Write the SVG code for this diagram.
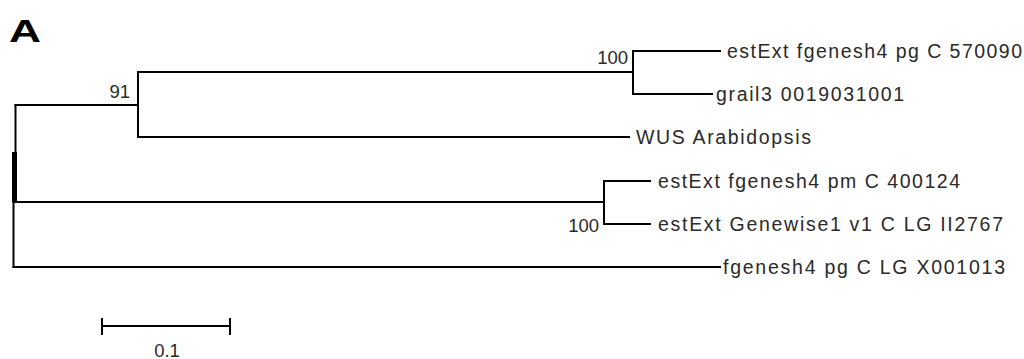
<svg xmlns="http://www.w3.org/2000/svg" width="1024" height="359" viewBox="0 0 1024 359">
<style>
.br{stroke:#000;stroke-width:2;fill:none;stroke-linecap:square}
.lb{font-family:"Liberation Sans",Arial,sans-serif;font-size:19.5px;fill:#2a2a2a}
.bs{font-family:"Liberation Sans",Arial,sans-serif;font-size:18.5px;fill:#2a2a2a}
</style>
<rect width="1024" height="359" fill="#fff"/>
<text x="9" y="42" font-family="Liberation Sans,Arial,sans-serif" font-weight="bold" font-size="32" textLength="32" lengthAdjust="spacingAndGlyphs" fill="#000">A</text>
<g id="connectors">
<path class="br" d="M15.5 105V202"/>
<rect x="12" y="152" width="5" height="50" fill="#000"/>
<path class="br" d="M13.5 202V267"/>
<path class="br" d="M15.5 105H138M138 72V137M138 72H633M633 51V94"/>
<path class="br" d="M633 51H720M633 94H712M138 137H629"/>
<path class="br" d="M13.5 202H604M604 181V224M604 181H650M604 224H650"/>
<path class="br" d="M13.5 267H720"/>
</g>
<g id="bootstrap">
<text class="bs" x="130" y="98" text-anchor="end">91</text>
<text class="bs" x="628" y="64" text-anchor="end">100</text>
<text class="bs" x="599" y="232" text-anchor="end">100</text>
</g>
<g id="leaf1"><text class="lb" x="727" y="58" textLength="295" lengthAdjust="spacing">estExt fgenesh4 pg C 570090</text></g>
<g id="leaf2"><text class="lb" x="716" y="101" textLength="188" lengthAdjust="spacing">grail3 0019031001</text></g>
<g id="leaf3"><text class="lb" x="636" y="144" textLength="175" lengthAdjust="spacing">WUS Arabidopsis</text></g>
<g id="leaf4"><text class="lb" x="658" y="188" textLength="302" lengthAdjust="spacing">estExt fgenesh4 pm C 400124</text></g>
<g id="leaf5"><text class="lb" x="658" y="231" textLength="345" lengthAdjust="spacing">estExt Genewise1 v1 C LG II2767</text></g>
<g id="leaf6"><text class="lb" x="723" y="274" textLength="282" lengthAdjust="spacing">fgenesh4 pg C LG X001013</text></g>
<g id="scalebar">
<path class="br" d="M102 326H230M102 319V334M230 319V334" stroke-width="2.5"/>
<text class="bs" x="167" y="357" text-anchor="middle">0.1</text>
</g>
</svg>
